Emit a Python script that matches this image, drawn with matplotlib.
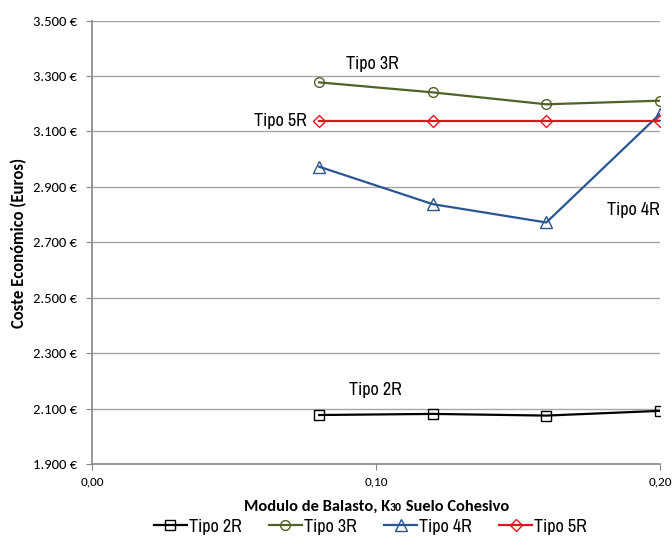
import matplotlib
matplotlib.use("Agg")
import matplotlib.pyplot as plt
from matplotlib.ticker import FuncFormatter
from matplotlib.offsetbox import TextArea, HPacker, AnchoredOffsetbox

x_vals = [0.08, 0.12, 0.16, 0.20]
tipo_2r = [2078, 2082, 2076, 2093]
tipo_3r = [3277, 3241, 3198, 3211]
tipo_4r = [2973, 2838, 2772, 3163]
tipo_5r = [3137, 3137, 3137, 3137]

series_names = ["Tipo 2R", "Tipo 3R", "Tipo 4R", "Tipo 5R"]
x_ticks = [0.0, 0.1, 0.2]
y_ticks = [1900, 2100, 2300, 2500, 2700, 2900, 3100, 3300, 3500]

CAL = ["Carlito", "DejaVu Sans"]
NAR = ["Archivo Narrow", "Liberation Sans", "DejaVu Sans"]

fig = plt.figure(figsize=(6.72, 5.47), dpi=100)
ax = fig.add_axes([0.137, 0.151, 0.845, 0.8115])

styles = [
    dict(color="black", marker="s", ms=7),
    dict(color="#4F6228", marker="o", ms=7),
    dict(color="#2A5590", marker="^", ms=8),
    dict(color="#E0161E", marker="D", ms=6),
]
for vals, name, st in zip([tipo_2r, tipo_3r, tipo_4r, tipo_5r], series_names, styles):
    ax.plot(x_vals, vals, color=st["color"], marker=st["marker"], markersize=st["ms"],
            markerfacecolor="none", markeredgecolor=st["color"], markeredgewidth=1.0,
            linewidth=1.6, label=name)

ax.set_xlim(0, 0.2)
ax.set_ylim(1900, 3500)
ax.set_xticks(x_ticks)
ax.set_yticks(y_ticks)
ax.xaxis.set_major_formatter(FuncFormatter(lambda v, p: f"{v:.2f}".replace(".", ",")))
ax.yaxis.set_major_formatter(FuncFormatter(lambda v, p: f"{int(v):,} €".replace(",", ".")))
ax.grid(axis="y", color="#A6A6A6", linewidth=1.0)
ax.set_axisbelow(True)
for s in ["top", "right"]:
    ax.spines[s].set_visible(False)
for s in ["left", "bottom"]:
    ax.spines[s].set_color("#868686")
    ax.spines[s].set_linewidth(1.2)
ax.tick_params(axis="y", length=4, color="#868686", labelsize=10.5, pad=7)
ax.tick_params(axis="x", length=4, color="#868686", labelsize=9.5, pad=5)
for t in ax.get_yticklabels() + ax.get_xticklabels():
    t.set_fontfamily(CAL)

ax.set_ylabel("Coste Económico (Euros)", fontfamily=CAL, fontweight="bold",
              fontsize=12, labelpad=4)

# x-axis title with the reduced "30" of K30 on the same baseline
bold = dict(fontfamily=CAL, fontweight="bold")
parts = [TextArea("Modulo de Balasto, K", textprops=dict(fontsize=11.8, **bold)),
         TextArea("30", textprops=dict(fontsize=8.5, **bold)),
         TextArea(" Suelo Cohesivo", textprops=dict(fontsize=11.8, **bold))]
xtitle = HPacker(children=parts, align="baseline", pad=0, sep=0)
fig.add_artist(AnchoredOffsetbox(loc="center", child=xtitle, frameon=False, pad=0,
                                 bbox_to_anchor=(0.56, 0.073),
                                 bbox_transform=fig.transFigure, borderpad=0))

lbl = dict(fontfamily=NAR, fontsize=13)
ax.text(0.0989, 3342, "Tipo 3R", ha="center", va="center", **lbl)
ax.text(0.0755, 3138, "Tipo 5R", ha="right", va="center", **lbl)
ax.text(0.1906, 2816, "Tipo 4R", ha="center", va="center", **lbl)
ax.text(0.0997, 2168, "Tipo 2R", ha="center", va="center", **lbl)

fig.legend(loc="center", bbox_to_anchor=(0.551, 0.037), ncol=4, frameon=False,
           prop={"family": NAR, "size": 13}, handlelength=1.85,
           handletextpad=0.1, columnspacing=1.5)

fig.savefig("out.png", dpi=100)
